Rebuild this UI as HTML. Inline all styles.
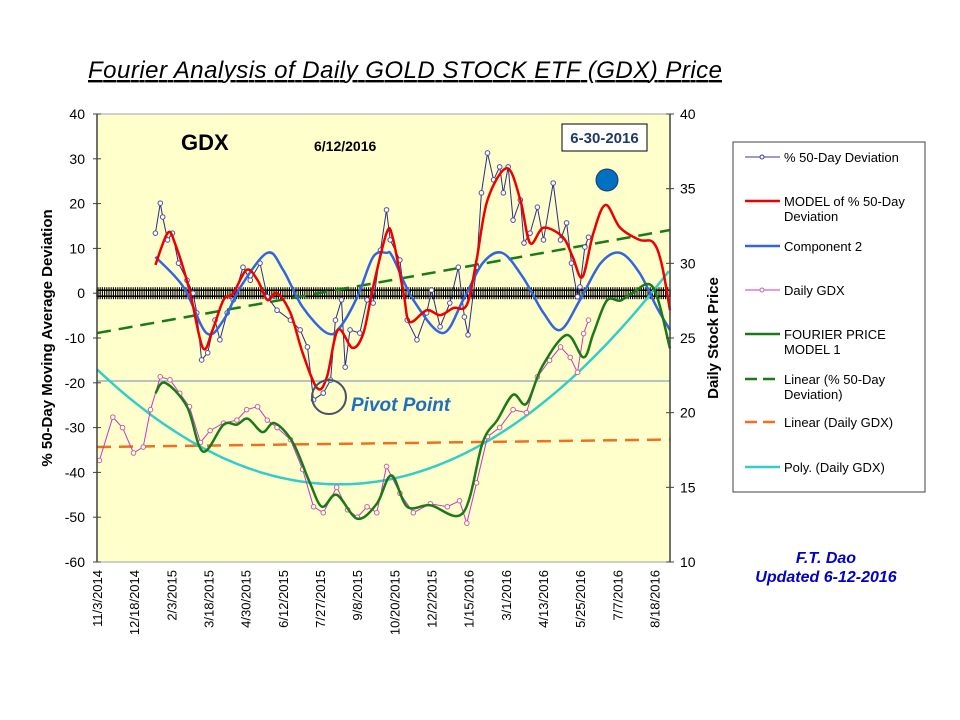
<!DOCTYPE html>
<html><head><meta charset="utf-8"><style>
body{margin:0;background:#fff;font-family:"Liberation Sans",sans-serif}
</style></head><body>
<svg id="c" width="960" height="720" xmlns="http://www.w3.org/2000/svg" style="position:absolute;left:0;top:0">
<text x="88" y="78" font-size="24" font-style="italic" text-decoration="underline" fill="#000" textLength="634" lengthAdjust="spacing">Fourier Analysis of Daily  GOLD STOCK ETF (GDX) Price</text>
<rect x="97" y="114" width="573" height="448" fill="#ffffcc" stroke="#a0a0a0"/>
<g id="grid"></g>
<g id="series"></g>
<g id="axes"></g>
<text x="181" y="150" font-size="22" font-weight="bold">GDX</text>
<text x="314" y="151" font-size="14" font-weight="bold">6/12/2016</text>
<rect x="562" y="124" width="85" height="27" fill="#fff" stroke="#000"/>
<text x="604.5" y="143" font-size="15" font-weight="bold" text-anchor="middle" fill="#1f3864">6-30-2016</text>
<circle cx="607" cy="180" r="11" fill="#0070c0" stroke="#1f3864"/>
<circle cx="329" cy="397" r="17" fill="none" stroke="#44546a" stroke-width="2"/>
<text x="351" y="411" font-size="19" font-weight="bold" font-style="italic" fill="#1f6fbf">Pivot Point</text>
<text transform="translate(52,338) rotate(-90)" font-size="15" font-weight="bold" text-anchor="middle">% 50-Day Moving Average  Deviation</text>
<text transform="translate(718,338) rotate(-90)" font-size="15" font-weight="bold" text-anchor="middle">Daily Stock Price</text>
<g font-size="13">
<rect x="733" y="142" width="192" height="350" fill="#fff" stroke="#404040"/>
<g><line x1="745" y1="157" x2="780" y2="157" stroke="#3a3a9a"/><circle cx="762" cy="157" r="2" fill="#fff" stroke="#3a3a9a"/><text x="784" y="162">% 50-Day Deviation</text></g>
<g><line x1="745" y1="201" x2="780" y2="201" stroke="#e00" stroke-width="2.5"/><text x="784" y="206">MODEL of  % 50-Day</text><text x="784" y="221">Deviation</text></g>
<g><line x1="745" y1="246" x2="780" y2="246" stroke="#3366dd" stroke-width="2.5"/><text x="784" y="251">Component 2</text></g>
<g><line x1="745" y1="290" x2="780" y2="290" stroke="#cc33cc"/><circle cx="762" cy="290" r="2" fill="#fff" stroke="#cc6688"/><text x="784" y="295">Daily GDX</text></g>
<g><line x1="745" y1="334" x2="780" y2="334" stroke="#1a7a1a" stroke-width="2.5"/><text x="784" y="339">FOURIER PRICE</text><text x="784" y="354">MODEL 1</text></g>
<g><line x1="745" y1="379" x2="780" y2="379" stroke="#1a7a1a" stroke-width="2.5" stroke-dasharray="12,6"/><text x="784" y="384">Linear (% 50-Day</text><text x="784" y="399">Deviation)</text></g>
<g><line x1="745" y1="422" x2="780" y2="422" stroke="#f07020" stroke-width="2.5" stroke-dasharray="12,6"/><text x="784" y="427">Linear (Daily GDX)</text></g>
<g><line x1="745" y1="467" x2="780" y2="467" stroke="#33cccc" stroke-width="2.5"/><text x="784" y="472">Poly. (Daily GDX)</text></g>
</g>
<text x="826" y="563" font-size="16" font-weight="bold" font-style="italic" fill="#0000cc" text-anchor="middle">F.T. Dao</text>
<text x="826" y="582" font-size="16" font-weight="bold" font-style="italic" fill="#0000cc" text-anchor="middle">Updated 6-12-2016</text>
</svg>
<script>
const xLabels=["11/3/2014","12/18/2014","2/3/2015","3/18/2015","4/30/2015","6/12/2015","7/27/2015","9/8/2015","10/20/2015","12/2/2015","1/15/2016","3/1/2016","4/13/2016","5/25/2016","7/7/2016","8/18/2016"];
const leftTicks=[40,30,20,10,0,-10,-20,-30,-40,-50,-60];
const rightTicks=[40,35,30,25,20,15,10];
const devDays=[48,52,54,58,62,67,74,79,82,86,91,97,101,107,112,120,126,134,140,148,159,167,173,178,186,192,196,201,204,208,216,222,227,233,238,241,249,255,263,271,275,282,290,297,302,305,312,316,321,326,331,334,338,342,348,351,356,362,367,375,381,386,390,395,397,401,404];
const devVals=[13.4,20.1,17.0,11.9,13.4,6.7,2.9,0,-4.4,-14.9,-13.3,-6.0,-10.4,-4.4,-1.5,5.8,2.9,6.7,-0.8,-3.8,-6.0,-8.2,-12.0,-23.8,-22.3,-19.4,-6.0,-1.5,-16.5,-8.2,-8.9,-1.5,-2.2,9.6,18.6,11.9,7.4,-6.0,-10.4,-4.4,0.7,-7.5,-2.2,5.8,-5.3,-9.3,5.8,22.4,31.3,25.3,28.2,22.4,28.2,16.3,20.8,11.2,13.4,19.2,11.9,24.6,11.9,15.7,6.7,-0.8,1.4,10.3,12.5];
const modelDays=[48,58,64,76,87,95,104,112,123,132,140,148,159,169,181,189,198,210,219,227,238,243,252,257,271,282,293,304,312,321,337,348,356,367,383,391,399,408,418,430,446,457,464,471];
const modelVals=[6.3,13.4,11.2,0.7,-12.2,-8.2,-1.5,0,5.2,2.9,-1.5,0,-4.4,-13.3,-21.2,-18.7,-8.2,-12.2,-8.9,1.4,13.4,12.5,0,-6.4,-3.8,-4.9,-3.3,-2.6,7.4,20.8,27.9,20.8,11.2,14.6,12.5,8.1,3.6,13.4,19.7,14.6,11.9,11.4,6.7,-3.8];
const compDays=[48,71,90,104,118,140,153,169,189,200,214,227,238,243,260,284,301,317,333,350,367,381,397,414,430,446,460,471];
const compVals=[8.1,1.4,-8.9,-6.0,1.4,9.0,5.2,-3.1,-8.9,-7.5,-0.8,8.1,9.0,8.1,-1.5,-8.9,-1.5,6.7,9.0,3.6,-4.4,-8.2,-1.5,6.7,9.0,4.5,-3.1,-8.2];
const gdxDays=[2,13,21,30,38,44,52,60,68,76,85,93,104,115,123,132,140,148,159,169,178,186,197,206,214,222,230,238,249,260,274,288,298,304,312,321,331,342,353,362,372,381,389,395,400,404];
const gdxVals=[16.8,19.7,19.0,17.3,17.7,20.2,22.4,22.2,21.3,20.4,18.0,18.8,19.3,19.5,20.2,20.4,19.5,19.0,18.2,16.2,13.7,13.3,15.0,13.5,13.0,13.7,13.3,16.4,14.6,13.3,13.9,13.7,14.1,12.6,15.3,18.4,19.0,20.2,20.0,22.4,23.5,24.4,23.7,22.7,25.3,26.2];
const fourierDays=[48,56,74,87,104,115,124,136,146,161,175,185,197,214,230,242,255,274,301,317,329,342,353,366,386,400,408,419,430,440,457,471];
const fourierVals=[21.3,22.0,20.4,17.4,19.2,19.2,19.6,18.7,19.3,18.0,15.3,13.7,14.5,12.9,13.9,15.8,13.7,13.8,13.3,18.0,19.5,21.2,20.6,23.1,25.2,23.7,25.3,27.5,27.5,28.0,28.4,24.3];
const devTrend=[-8.9,14.1];
const gdxTrend=[17.7,18.2];
const polyCoef=[1.944e-4,-0.07738,22.9];
const dayMax=471;

const NS="http://www.w3.org/2000/svg";
const X0=97,X1=670,Y0=114,Y1=562;
const xs=d=>X0+d/dayMax*(X1-X0);
const yl=v=>Y0+(40-v)/100*(Y1-Y0);
const yr=v=>Y0+(40-v)/30*(Y1-Y0);
function mk(tag,attrs,parent){const e=document.createElementNS(NS,tag);for(const k in attrs)e.setAttribute(k,attrs[k]);parent.appendChild(e);return e;}
const S=document.getElementById('series'),A=document.getElementById('axes'),G=document.getElementById('grid');
function pts(ds,vs,f){return ds.map((d,i)=>xs(d).toFixed(1)+","+f(vs[i]).toFixed(1)).join(" ");}
function smooth(ds,vs,f){const p=ds.map((d,i)=>[xs(d),f(vs[i])]);let s="M"+p[0][0]+","+p[0][1];for(let i=0;i<p.length-1;i++){const p0=p[i-1]||p[i],p1=p[i],p2=p[i+1],p3=p[i+2]||p2;s+=" C"+(p1[0]+(p2[0]-p0[0])/6)+","+(p1[1]+(p2[1]-p0[1])/6)+" "+(p2[0]-(p3[0]-p1[0])/6)+","+(p2[1]-(p3[1]-p1[1])/6)+" "+p2[0]+","+p2[1];}return s;}

let hl=mk('line',{x1:X0,x2:X1,y1:381,y2:381,stroke:'#8aa0b8','stroke-width':1.2},G);


const zb=mk('g',{},G);


mk('rect',{x:X0,y:yl(0)-3,width:X1-X0,height:6,fill:'none',stroke:'#000','stroke-width':1.5},zb);
for(let x=X0+1;x<X1;x+=2.2)mk('line',{x1:x,x2:x,y1:yl(0)-6,y2:yl(0)+6,stroke:'#000','stroke-width':1.1},zb);

let t1=mk('line',{x1:xs(0),x2:xs(dayMax),y1:yl(devTrend[0]),y2:yl(devTrend[1]),stroke:'#1a7a1a','stroke-width':2.5,'stroke-dasharray':'14,8'},S);


let t2=mk('line',{x1:xs(0),x2:xs(dayMax),y1:yr(gdxTrend[0]),y2:yr(gdxTrend[1]),stroke:'#f07020','stroke-width':2.5,'stroke-dasharray':'14,8'},S);


let pp=[];for(let d=0;d<=dayMax;d+=5)pp.push(xs(d).toFixed(1)+","+yr(polyCoef[0]*d*d+polyCoef[1]*d+polyCoef[2]).toFixed(1));
let pl=mk('polyline',{points:pp.join(" "),fill:'none',stroke:'#33cccc','stroke-width':2.5},S);



let gl=mk('polyline',{points:pts(gdxDays,gdxVals,yr),fill:'none',stroke:'#cc33cc','stroke-width':1},S);


gdxDays.forEach((d,i)=>{const c=mk('circle',{cx:xs(d),cy:yr(gdxVals[i]),r:2.3,fill:'#fff',stroke:'#cc6688','stroke-width':1},S);

});
let dl=mk('polyline',{points:pts(devDays,devVals,yl),fill:'none',stroke:'#2a2a8a','stroke-width':1},S);


devDays.forEach((d,i)=>{const c=mk('circle',{cx:xs(d),cy:yl(devVals[i]),r:2.3,fill:'#fff',stroke:'#5050a0','stroke-width':1},S);

});
let cp=mk('path',{d:smooth(compDays,compVals,yl),fill:'none',stroke:'#3366dd','stroke-width':2.5},S);


let mp=mk('path',{d:smooth(modelDays,modelVals,yl),fill:'none',stroke:'#e00','stroke-width':2.5},S);


let fp=mk('path',{d:smooth(fourierDays,fourierVals,yr),fill:'none',stroke:'#1a7a1a','stroke-width':2.5},S);



mk('line',{x1:X0,x2:X0,y1:Y0,y2:Y1,stroke:'#404040','stroke-width':1.5},A);
mk('line',{x1:X1,x2:X1,y1:Y0,y2:Y1,stroke:'#404040','stroke-width':1.5},A);
leftTicks.forEach(v=>{mk('line',{x1:X0-4,x2:X0+4,y1:yl(v),y2:yl(v),stroke:'#404040'},A);
const t=mk('text',{x:85,y:yl(v)+5,'font-size':14,'text-anchor':'end'},A);t.textContent=v;

});
rightTicks.forEach(v=>{mk('line',{x1:X1-4,x2:X1+4,y1:yr(v),y2:yr(v),stroke:'#404040'},A);
const t=mk('text',{x:680,y:yr(v)+5,'font-size':14},A);t.textContent=v;

});
xLabels.forEach((l,i)=>{const x=xs(i*30.55)+5;
const t=mk('text',{transform:`translate(${x},570) rotate(-90)`,'font-size':13,'text-anchor':'end'},A);t.textContent=l;

});
</script>
</body></html>
